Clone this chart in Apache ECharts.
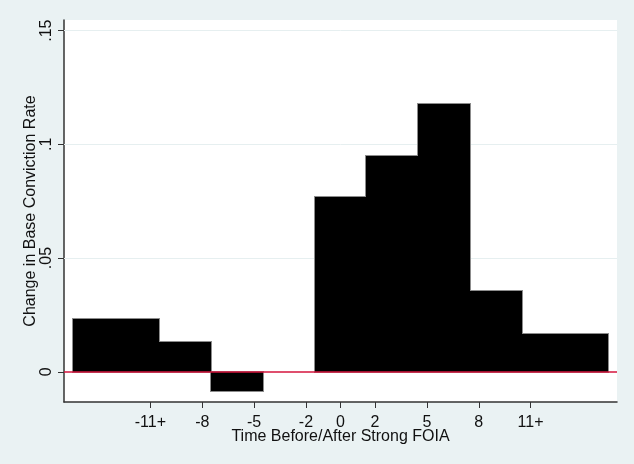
<!DOCTYPE html>
<html>
<head>
<meta charset="utf-8">
<script src="https://cdn.jsdelivr.net/npm/echarts@6/dist/echarts.min.js"></script>
<style>
html,body{margin:0;padding:0;background:#eaf2f3;}
#c{width:634px;height:464px;}
</style>
</head>
<body>
<div id="c"></div>
<script>
// Bins (time before/after strong FOIA), bin edges and values
var binStart = [-15.5, -10.5, -7.5, -4.5, -1.5, 1.5, 4.5, 7.5, 10.5];
var binEnd   = [-10.5, -7.5, -4.5, -1.5, 1.5, 4.5, 7.5, 10.5, 15.5];
var values   = [0.023, 0.0129, -0.0085, 0, 0.077, 0.0947, 0.1176, 0.0354, 0.0164];

var xTickValues = [-11, -8, -5, -2, 0, 2, 5, 8, 11];
var xTickLabels = ['-11+', '-8', '-5', '-2', '0', '2', '5', '8', '11+'];
var yTickValues = [0, 0.05, 0.1, 0.15];
var yTickLabels = ['0', '.05', '.1', '.15'];
var gridLines = [0.05, 0.1, 0.15];

var data = binStart.map(function (s, i) { return [s, binEnd[i], values[i]]; });

var font = 'Liberation Sans, Arial, sans-serif';
var txt = '#111';

var chart = echarts.init(document.getElementById('c'));
chart.setOption({
  backgroundColor: '#eaf2f3',
  animation: false,
  grid: { left: 64, right: 17, top: 20, bottom: 62, show: true, backgroundColor: '#ffffff', borderWidth: 0 },
  xAxis: {
    type: 'value', min: -16, max: 16,
    name: 'Time Before/After Strong FOIA', nameLocation: 'middle', nameGap: 27, nameMoveOverlap: false,
    nameTextStyle: { fontFamily: font, fontSize: 16, color: txt },
    axisLine: { show: true, onZero: false, lineStyle: { color: '#333', width: 1.5 } },
    axisTick: { show: true, length: 6, customValues: xTickValues, lineStyle: { color: '#333', width: 1 } },
    axisLabel: {
      customValues: xTickValues, margin: 13, fontFamily: font, fontSize: 16, color: txt,
      formatter: function (v) { var i = xTickValues.indexOf(v); return i >= 0 ? xTickLabels[i] : ''; }
    },
    splitLine: { show: false }
  },
  yAxis: {
    type: 'value', min: -0.0133, max: 0.1547,
    name: 'Change in Base Conviction Rate', nameLocation: 'middle', nameGap: 25, nameMoveOverlap: false,
    nameTextStyle: { fontFamily: font, fontSize: 16, color: txt },
    axisLine: { show: true, onZero: false, lineStyle: { color: '#333', width: 1.5 } },
    axisTick: { show: true, length: 6, customValues: yTickValues, lineStyle: { color: '#333', width: 1 } },
    axisLabel: {
      customValues: yTickValues, rotate: 90, margin: 9, fontFamily: font, fontSize: 16, color: txt,
      formatter: function (v) {
        for (var i = 0; i < yTickValues.length; i++) { if (Math.abs(yTickValues[i] - v) < 1e-9) return yTickLabels[i]; }
        return '';
      }
    },
    splitLine: { show: false }
  },
  series: [
    {
      type: 'line', data: [], z: 1,
      markLine: {
        silent: true, symbol: 'none', z: 1, label: { show: false },
        lineStyle: { color: '#e6eff0', width: 1, type: 'solid' },
        data: gridLines.map(function (g) { return { yAxis: g }; })
      }
    },
    {
      type: 'custom', z: 2,
      data: data,
      renderItem: function (params, api) {
        var x0 = api.value(0), x1 = api.value(1), v = api.value(2);
        if (v === 0) return null;
        var p0 = api.coord([x0, v]);
        var p1 = api.coord([x1, 0]);
        var xa = Math.round(p0[0]), xb = Math.round(p1[0]);
        var ya = Math.round(Math.min(p0[1], p1[1])), yb = Math.round(Math.max(p0[1], p1[1]));
        var shape = { x: xa, y: ya, width: xb - xa, height: yb - ya };
        return {
          type: 'group',
          children: [
            { type: 'rect', z2: 1, shape: shape, style: { fill: 'none', stroke: '#8c8c8c', lineWidth: 2 } },
            { type: 'rect', z2: 5, shape: shape, style: { fill: '#000' } }
          ]
        };
      },
      markLine: {
        silent: true, symbol: 'none', z: 10, label: { show: false },
        lineStyle: { color: '#d4143c', width: 1.5, type: 'solid' },
        data: [{ yAxis: 0 }]
      }
    }
  ]
});
</script>
</body>
</html>
